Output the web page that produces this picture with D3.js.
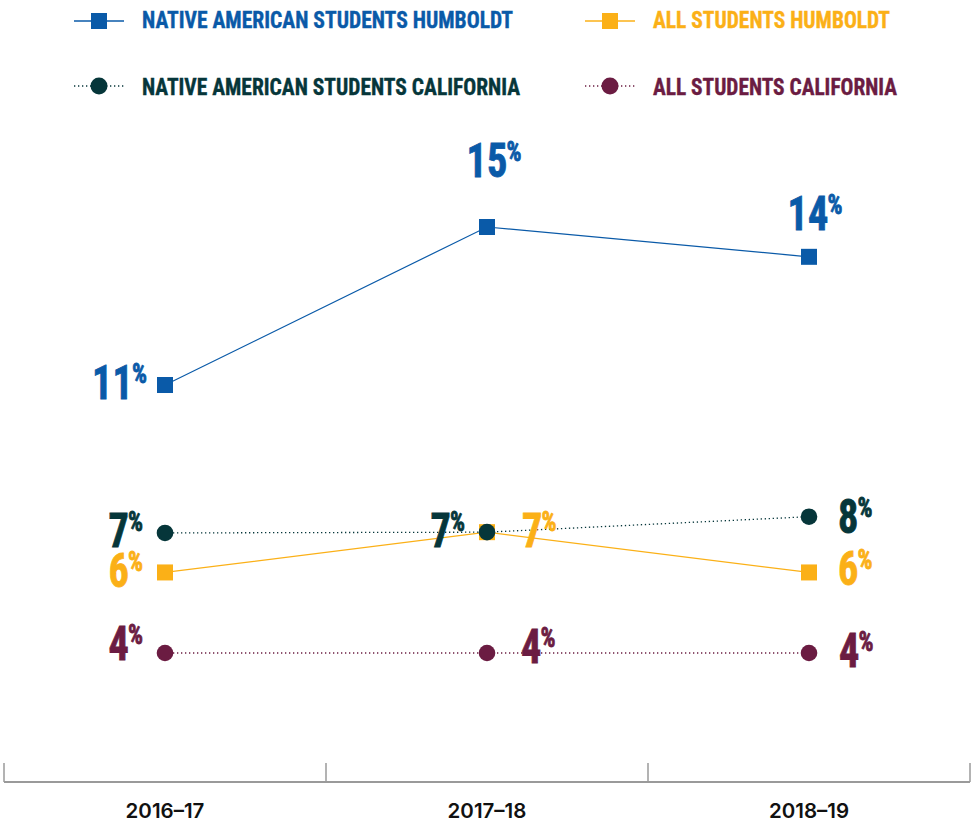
<!DOCTYPE html>
<html>
<head>
<meta charset="utf-8">
<script src="https://cdn.jsdelivr.net/npm/d3@7"></script>
<style>
  html, body { margin: 0; padding: 0; background: #fff; }
  svg { display: block; }
</style>
</head>
<body>
<svg id="chart" width="972" height="825"></svg>
<script>
// ---- data ----
const years = ["2016–17", "2017–18", "2018–19"];
const nativeHumboldt = [10.92, 15.0, 14.23];
const allHumboldt = [6.08, 7.12, 6.08];
const nativeCalifornia = [7.1, 7.12, 7.52];
const allCalifornia = [4.0, 4.0, 4.0];
const seriesNames = [
  "NATIVE AMERICAN STUDENTS HUMBOLDT",
  "ALL STUDENTS HUMBOLDT",
  "NATIVE AMERICAN STUDENTS CALIFORNIA",
  "ALL STUDENTS CALIFORNIA"
];

// ---- styles ----
const colors = ["#0a5aa8", "#fbb017", "#06363a", "#6b1c42"];
const markers = ["square", "square", "circle", "circle"];
const dashed = [false, false, true, true];
const seriesValues = [nativeHumboldt, allHumboldt, nativeCalifornia, allCalifornia];

// label placement per series per point: [dx, dy, anchor]
const labelPlace = [
  [[-18, 14, "end"], [7, -50, "middle"], [6, -27, "middle"]],
  [[-22, 15, "end"], [35, 15, "start"], [29, 13, "start"]],
  [[-22, 14, "end"], [-22, 15, "end"], [29, 16, "start"]],
  [[-22, 7, "end"], [34, 10, "start"], [30, 14, "start"]]
];

const svg = d3.select("#chart");
const condensed = "'Liberation Sans Narrow','Roboto Condensed','DejaVu Sans Condensed',sans-serif";

const x = d3.scaleBand().domain(years).range([4, 970]).padding(0);
const y = d3.scaleLinear().domain([4, 15]).range([653, 227]);
const cx = d => x(d) + x.bandwidth() / 2;

// ---- axis ----
const axisY = 782;
const axisG = svg.append("g").attr("transform", `translate(0,${axisY})`);
axisG.append("line")
  .attr("x1", x.range()[0]).attr("x2", x.range()[1])
  .attr("y1", 0).attr("y2", 0)
  .attr("stroke", "#9a9a9a").attr("stroke-width", 2);
const bounds = years.map(d => x(d)).concat([x.range()[1]]);
axisG.selectAll("line.tick").data(bounds).join("line")
  .attr("class", "tick")
  .attr("x1", d => d).attr("x2", d => d)
  .attr("y1", -19).attr("y2", 0)
  .attr("stroke", "#9a9a9a").attr("stroke-width", 1.5);
const axis = d3.axisBottom(x).tickSize(0).tickPadding(0);
const axisLabels = svg.append("g").attr("transform", `translate(0,${axisY})`).call(axis);
axisLabels.select(".domain").remove();
axisLabels.selectAll("text")
  .attr("y", 36).attr("dy", 0)
  .attr("font-family", "Inter, 'Liberation Sans', sans-serif")
  .attr("font-weight", 600)
  .attr("font-size", 20.5)
  .attr("fill", "#111");

// ---- lines ----
const line = d3.line().x((d, i) => cx(years[i])).y(d => y(d));
seriesValues.forEach((vals, s) => {
  svg.append("path")
    .datum(vals)
    .attr("d", line)
    .attr("fill", "none")
    .attr("stroke", colors[s])
    .attr("stroke-width", dashed[s] ? 1.3 : 1.2)
    .attr("stroke-dasharray", dashed[s] ? "1.3,2.7" : null);
});

// ---- markers ----
seriesValues.forEach((vals, s) => {
  const g = svg.append("g");
  if (markers[s] === "square") {
    g.selectAll("rect").data(vals).join("rect")
      .attr("x", (d, i) => cx(years[i]) - 8)
      .attr("y", d => y(d) - 8)
      .attr("width", 16).attr("height", 16)
      .attr("fill", colors[s]);
  } else {
    g.selectAll("circle").data(vals).join("circle")
      .attr("cx", (d, i) => cx(years[i]))
      .attr("cy", d => y(d))
      .attr("r", 8.3)
      .attr("fill", colors[s]);
  }
});

// ---- value labels ----
seriesValues.forEach((vals, s) => {
  vals.forEach((v, i) => {
    const [dx, dy, anchor] = labelPlace[s][i];
    const t = svg.append("text")
      .attr("transform", `translate(${cx(years[i]) + dx},${y(v) + dy}) scale(0.84,1)`)
      .attr("text-anchor", anchor)
      .attr("font-family", condensed)
      .attr("font-weight", 700)
      .attr("stroke", colors[s])
      .attr("stroke-width", 0.8)
      .attr("fill", colors[s]);
    t.append("tspan").attr("font-size", 48).text(Math.round(v));
    t.append("tspan").attr("font-size", 28).attr("dy", -16).attr("dx", -1).text("%");
  });
});

// ---- legend ----
const legendPos = [
  {lx: 74, ly: 21, tx: 142, ty: 28, w: 371},
  {lx: 585, ly: 21, tx: 653, ty: 28, w: 237},
  {lx: 74, ly: 86, tx: 142, ty: 95, w: 378},
  {lx: 585, ly: 86, tx: 653, ty: 95, w: 244}
];
seriesNames.forEach((name, s) => {
  const p = legendPos[s];
  const g = svg.append("g");
  g.append("line")
    .attr("x1", p.lx).attr("x2", p.lx + 50)
    .attr("y1", p.ly).attr("y2", p.ly)
    .attr("stroke", colors[s])
    .attr("stroke-width", dashed[s] ? 1.3 : 1.5)
    .attr("stroke-dasharray", dashed[s] ? "1.3,2.7" : null);
  if (markers[s] === "square") {
    g.append("rect")
      .attr("x", p.lx + 25 - 8).attr("y", p.ly - 8)
      .attr("width", 16).attr("height", 16)
      .attr("fill", colors[s]);
  } else {
    g.append("circle")
      .attr("cx", p.lx + 25).attr("cy", p.ly)
      .attr("r", 8.5).attr("fill", colors[s]);
  }
  g.append("text")
    .attr("x", p.tx).attr("y", p.ty)
    .attr("font-family", condensed)
    .attr("font-weight", 700)
    .attr("font-size", 24.5)
    .attr("fill", colors[s])
    .attr("stroke", colors[s])
    .attr("stroke-width", 0.4)
    .attr("textLength", p.w)
    .attr("lengthAdjust", "spacingAndGlyphs")
    .text(name);
});
</script>
</body>
</html>
